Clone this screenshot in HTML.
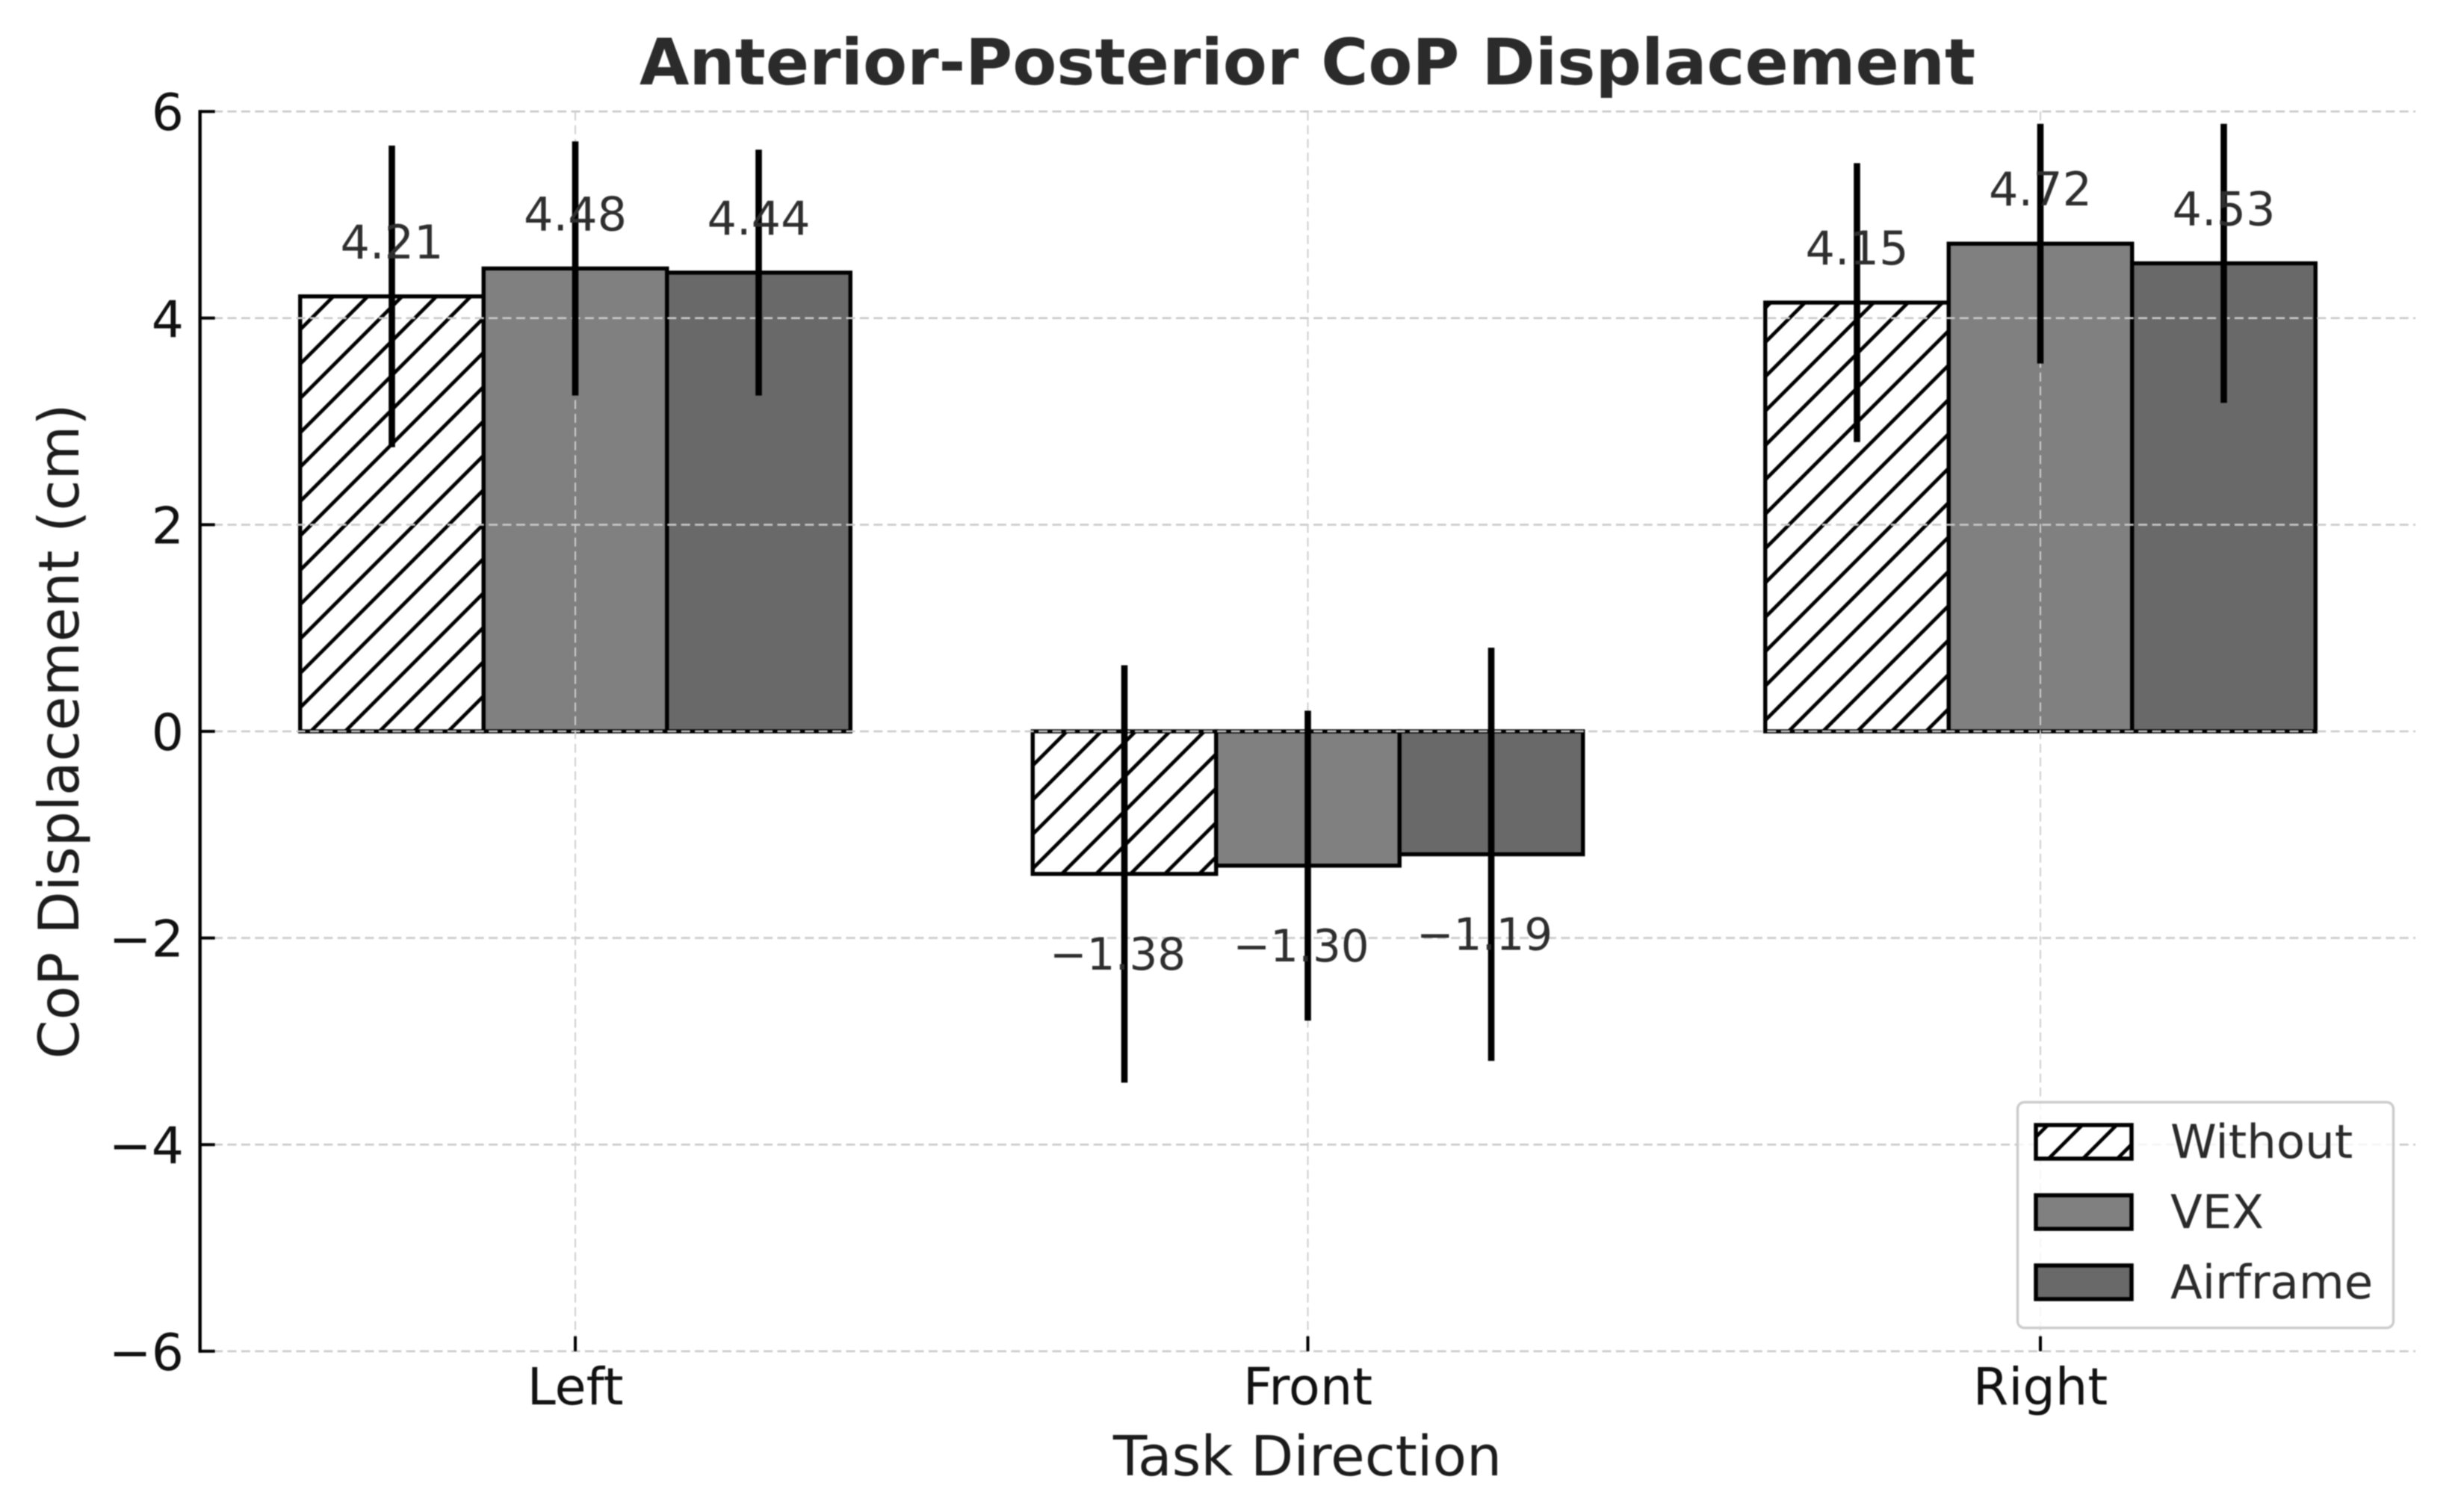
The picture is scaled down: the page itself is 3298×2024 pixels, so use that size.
<!DOCTYPE html>
<html lang="en">
<head>
<meta charset="utf-8">
<title>Anterior-Posterior CoP Displacement</title>
<style>
html,body{margin:0;padding:0;background:#fff;overflow:hidden;}
svg{display:block;filter:blur(0.8px);}
text{font-family:"DejaVu Sans","Liberation Sans",sans-serif;}
</style>
</head>
<body>
<svg id="chart" xmlns="http://www.w3.org/2000/svg" width="3298" height="2024" viewBox="0 0 3298 2024">
  <defs>
    <pattern id="hatch" patternUnits="userSpaceOnUse" width="46" height="46" patternTransform="translate(15 0)">
      <rect width="46" height="46" fill="#fff"/>
      <path d="M-11.5 11.5L11.5 -11.5M-11.5 57.5L57.5 -11.5M34.5 57.5L57.5 34.5" stroke="#000" stroke-width="4.8" fill="none"/>
    </pattern>
  </defs>
  <rect width="3298" height="2024" fill="#fff"/>
  <text x="1750" y="113" text-anchor="middle" font-size="86" font-weight="700" fill="#2b2b2b">Anterior-Posterior CoP Displacement</text>
  <text x="1750" y="1975" text-anchor="middle" font-size="74.4" fill="#1c1c1c">Task Direction</text>
  <text transform="translate(105 979) rotate(-90)" text-anchor="middle" font-size="74.8" fill="#1c1c1c">CoP Displacement (cm)</text>
  <g id="bars"></g>
  <g id="grid"></g>
  <g id="axes"></g>
  <g id="errors"></g>
  <g id="values"></g>
  <g id="legend"></g>
</svg>
<script>
const categories = ["Left", "Front", "Right"];
const seriesNames = ["Without", "VEX", "Airframe"];
const withoutValues = [4.21, -1.38, 4.15];
const vexValues = [4.48, -1.30, 4.72];
const airframeValues = [4.44, -1.19, 4.53];
const withoutErrors = [1.46, 2.02, 1.35];
const vexErrors = [1.23, 1.50, 1.16];
const airframeErrors = [1.19, 2.00, 1.35];
const yTickValues = [6, 4, 2, 0, -2, -4, -6];
const yTickLabels = ["6", "4", "2", "0", "\u22122", "\u22124", "\u22126"];

const NS = "http://www.w3.org/2000/svg";
const seriesValues = [withoutValues, vexValues, airframeValues];
const seriesErrors = [withoutErrors, vexErrors, airframeErrors];

function yScale(v) { return 979 - v * 138.3; }
function xScale(i) { return 770 + i * 980.5; }
function barWidth() { return 245.5; }
function barLeft(c, s) { return xScale(c) + (s - 1.5) * barWidth(); }
function seriesFill(s) {
  if (s === 0) return "url(#hatch)";
  if (s === 1) return "#808080";
  return "#696969";
}
function make(tag, attrs, parent) {
  const el = document.createElementNS(NS, tag);
  for (const k in attrs) el.setAttribute(k, attrs[k]);
  parent.appendChild(el);
  return el;
}
function fmt(v) {
  const s = Math.abs(v).toFixed(2);
  return v < 0 ? "\u2212" + s : s;
}

const barsG = document.getElementById("bars");
const gridG = document.getElementById("grid");
const axesG = document.getElementById("axes");
const errorsG = document.getElementById("errors");
const valuesG = document.getElementById("values");
const legendG = document.getElementById("legend");

const xLeft = 267.7, xRight = 3233;
const yTop = yScale(6), yBottom = yScale(-6);

// bars
seriesNames.forEach(function (name, s) {
  categories.forEach(function (cat, c) {
    const v = seriesValues[s][c];
    const top = Math.min(yScale(v), yScale(0));
    const h = Math.abs(yScale(v) - yScale(0));
    const bar = make("rect", { x: barLeft(c, s), y: top, width: barWidth(), height: h, fill: seriesFill(s), stroke: "#000", "stroke-width": 5.4 }, barsG);
    
    
  });
});

// grid
yTickValues.forEach(function (t) {
  const g = make("line", { x1: xLeft, x2: xRight, y1: yScale(t), y2: yScale(t), stroke: "#c9c9c9", "stroke-width": 2.6, "stroke-dasharray": "12 6.4" }, gridG);
  
  
});
categories.forEach(function (cat, c) {
  const g = make("line", { x1: xScale(c), x2: xScale(c), y1: yTop, y2: yBottom, stroke: "#cfcfcf", "stroke-width": 2, "stroke-dasharray": "12 6.4" }, gridG);
  
  
});

// axes
const spine = make("line", { x1: xLeft, x2: xLeft, y1: yTop - 2, y2: yBottom + 2, stroke: "#000", "stroke-width": 4.4 }, axesG);


yTickValues.forEach(function (t, i) {
  const tick = make("line", { x1: xLeft, x2: xLeft + 20, y1: yScale(t), y2: yScale(t), stroke: "#000", "stroke-width": 4 }, axesG);
  
  
  const lab = make("text", { x: 246, y: yScale(t) + 25, "text-anchor": "end", "font-size": 68, fill: "#111" }, axesG);
  lab.textContent = yTickLabels[i];
  
  
});
categories.forEach(function (cat, c) {
  const tick = make("line", { x1: xScale(c), x2: xScale(c), y1: yBottom, y2: yBottom - 20, stroke: "#000", "stroke-width": 4 }, axesG);
  
  
  const lab = make("text", { x: xScale(c), y: 1880, "text-anchor": "middle", "font-size": 68.5, fill: "#111" }, axesG);
  lab.textContent = cat;
  
  
});

// error bars and value labels
seriesNames.forEach(function (name, s) {
  categories.forEach(function (cat, c) {
    const v = seriesValues[s][c];
    const e = seriesErrors[s][c];
    const cx = barLeft(c, s) + barWidth() / 2;
    const err = make("line", { x1: cx, x2: cx, y1: yScale(v + e), y2: yScale(v - e), stroke: "#000", "stroke-width": 8.6 }, errorsG);
    
    
    const neg = v < 0;
    const lab = make("text", { x: neg ? cx - 9 : cx, y: neg ? yScale(v) + 128 : yScale(v) - 51, "text-anchor": "middle", "font-size": neg ? 59.5 : 62, fill: "#2e2e2e" }, valuesG);
    lab.textContent = fmt(v);
    
    
  });
});

// legend
const frame = make("rect", { x: 2700.5, y: 1475.5, width: 503, height: 302, rx: 9, ry: 9, fill: "#fff", "fill-opacity": 0.8, stroke: "#cccccc", "stroke-width": 3.4 }, legendG);


seriesNames.forEach(function (name, s) {
  const rowY = 1506 + s * 94;
  const patch = make("rect", { x: 2725, y: rowY, width: 128, height: 45, fill: seriesFill(s), stroke: "#000", "stroke-width": 5.5 }, legendG);
  
  
  const lab = make("text", { x: 2905, y: rowY + 44, "font-size": 62.5, fill: "#2a2a2a" }, legendG);
  lab.textContent = name;
  
  
});
</script>
</body>
</html>
